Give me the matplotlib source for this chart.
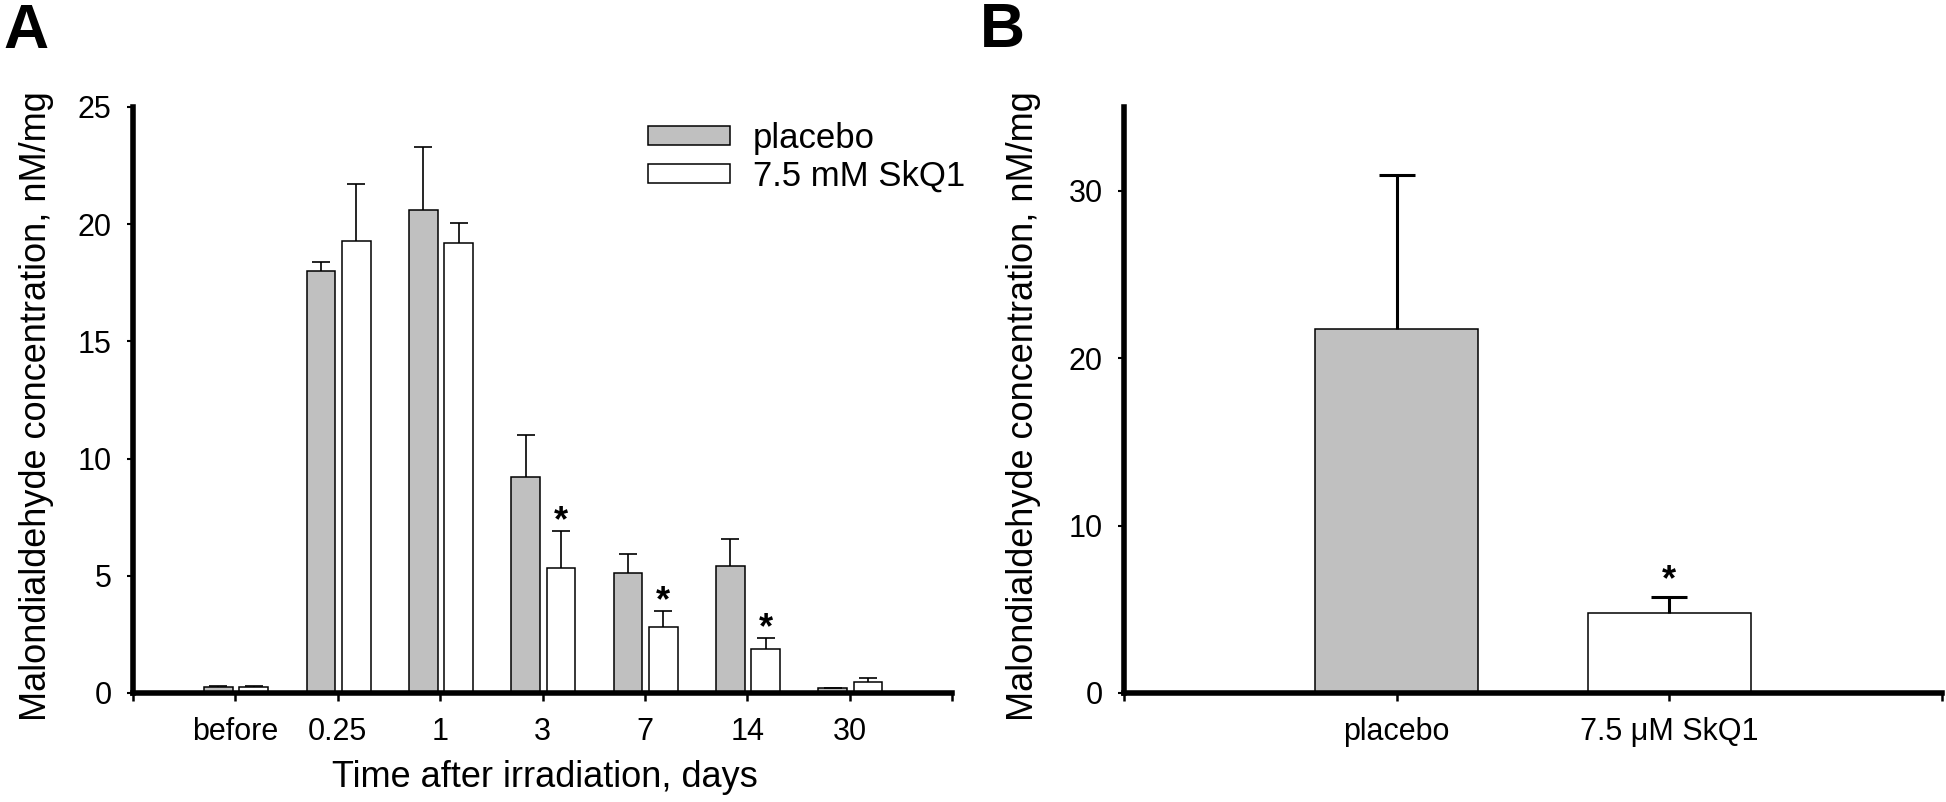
import numpy as np
import matplotlib
matplotlib.use('Agg')
from matplotlib import pyplot as plt

plt.rcParams['font.family'] = ['Liberation Sans', 'DejaVu Sans']

# panel A: MDA over time after irradiation
days = ['before', '0.25', '1', '3', '7', '14', '30']
placebo_a = [0.25, 18.0, 20.6, 9.2, 5.1, 5.4, 0.2]
placebo_a_err = [0.05, 0.4, 2.7, 1.8, 0.85, 1.15, 0.03]
skq1_a = [0.25, 19.3, 19.2, 5.35, 2.8, 1.87, 0.45]
skq1_a_err = [0.05, 2.4, 0.85, 1.55, 0.7, 0.48, 0.2]
stars_a = ['', '', '', '*', '*', '*', '']

# panel B
groups_b = ['placebo', '7.5 \u03bcM SkQ1']
values_b = [21.75, 4.75]
errors_b = [9.2, 1.0]
stars_b = ['', '*']

W, H = 1946, 802
fig = plt.figure(figsize=(W / 100, H / 100), dpi=100)


def px_axes(x0, x1, y_bottom, y_top):
    return [x0 / W, 1 - y_bottom / H, (x1 - x0) / W, (y_bottom - y_top) / H]


def style(ax):
    for s in ['top', 'right']:
        ax.spines[s].set_visible(False)
    for s in ['left', 'bottom']:
        ax.spines[s].set_linewidth(4)
        ax.spines[s].set_capstyle('projecting')
    ax.tick_params(axis='y', direction='out', length=4.5, width=1.5, pad=11, labelsize=22)
    ax.tick_params(axis='x', direction='out', length=6, width=1.8, pad=11, labelsize=22)


def upper_only(bars):
    # hide the lower caps that sit on top of each bar
    caps = bars.errorbar.lines[1]
    if caps:
        caps[0].set_visible(False)


axA = fig.add_axes(px_axes(133, 952, 693, 107))
x = np.arange(1, len(days) + 1)
w = 0.28
zeros = np.zeros(len(days))
ekw = dict(elinewidth=1.2, capsize=6.5, capthick=1.2, ecolor='black')
b1 = axA.bar(x - 0.165, placebo_a, w, color='#c0c0c0', edgecolor='black', linewidth=1.1,
             yerr=[zeros, placebo_a_err], error_kw=ekw, label='placebo')
b2 = axA.bar(x + 0.18, skq1_a, w, color='white', edgecolor='black', linewidth=1.1,
             yerr=[zeros, skq1_a_err], error_kw=ekw, label='7.5 mM SkQ1')
upper_only(b1)
upper_only(b2)
for xi, top, st in zip(x + 0.18, np.add(skq1_a, skq1_a_err), stars_a):
    if st:
        axA.annotate(st, xy=(xi, top), xytext=(0, 0), textcoords='offset points',
                     ha='center', va='baseline', fontsize=26, fontweight='bold')
axA.set_xlim(0, 8)
axA.set_ylim(0, 25)
axA.set_xticks(np.arange(0, 9))
axA.set_xticklabels([''] + days + [''])
axA.set_yticks(np.arange(0, 26, 5))
style(axA)
axA.set_ylabel('Malondialdehyde concentration, nM/mg', fontsize=26, va='center')
axA.yaxis.set_label_coords(-0.118, 0.49)
axA.set_xlabel('Time after irradiation, days', fontsize=26, va='center')
axA.xaxis.set_label_coords(0.503, -0.145)
axA.legend(frameon=False, loc='upper left', bbox_to_anchor=(0.629, 0.975), fontsize=25,
           handlelength=2.36, handleheight=0.46, handletextpad=0.66, labelspacing=0.15,
           borderpad=0, borderaxespad=0)

axB = fig.add_axes(px_axes(1124, 1942, 693, 107))
xb = np.arange(1, len(groups_b) + 1)
bb = axB.bar(xb, values_b, 0.6, color=['#c0c0c0', 'white'], edgecolor='black', linewidth=1.1,
             yerr=[np.zeros(len(groups_b)), errors_b],
             error_kw=dict(elinewidth=2.2, capsize=13, capthick=2.2, ecolor='black'))
upper_only(bb)
for xi, top, st in zip(xb, np.add(values_b, errors_b), stars_b):
    if st:
        axB.annotate(st, xy=(xi, top), xytext=(0, 5), textcoords='offset points',
                     ha='center', va='baseline', fontsize=26, fontweight='bold')
axB.set_xlim(0, 3)
axB.set_ylim(0, 35)
axB.set_xticks(np.arange(0, 4))
axB.set_xticklabels([''] + groups_b + [''])
axB.set_yticks([0, 10, 20, 30])
style(axB)
axB.set_ylabel('Malondialdehyde concentration, nM/mg', fontsize=26, va='center')
axB.yaxis.set_label_coords(-0.123, 0.49)

fig.text(3 / W, 1 - 48 / H, 'A', fontsize=45, fontweight='bold', va='baseline')
fig.text(980 / W, 1 - 47 / H, 'B', fontsize=45, fontweight='bold', va='baseline')

fig.savefig('out.png', dpi=100)
